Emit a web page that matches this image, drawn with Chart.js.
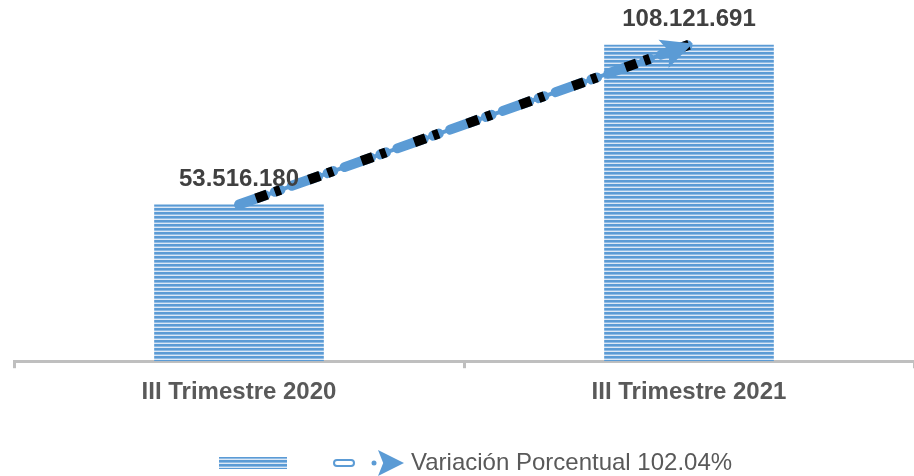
<!DOCTYPE html>
<html>
<head>
<meta charset="utf-8">
<script src="https://cdn.jsdelivr.net/npm/chart.js@4.4.1/dist/chart.umd.min.js"></script>
<style>
html,body{margin:0;padding:0;background:#fff;}
#wrap{width:914px;height:476px;position:relative;}
</style>
</head>
<body>
<div id="wrap"><canvas id="c" width="914" height="476"></canvas></div>
<script>
const categories = ['III Trimestre 2020', 'III Trimestre 2021'];
const values = [53516180, 108121691];
const valueLabels = ['53.516.180', '108.121.691'];
const lineLabel = 'Variación Porcentual 102.04%';
const yMax = 120000000;

const BLUE = '#5B9BD5';
const FONT = '"Liberation Sans", Arial, sans-serif';

function stripePattern() {
  const p = document.createElement('canvas');
  p.width = 8; p.height = 4;
  const g = p.getContext('2d');
  g.fillStyle = BLUE; g.fillRect(0, 0, 8, 2);
  g.fillStyle = '#8fbbe4'; g.fillRect(0, 2, 8, 1);
  g.fillStyle = '#dde8f5'; g.fillRect(0, 3, 8, 1);
  return document.getElementById('c').getContext('2d').createPattern(p, 'repeat');
}
const pattern = stripePattern();

function drawArrowHead(ctx, x, y, angle, len, half, notch) {
  ctx.save();
  ctx.translate(x, y);
  ctx.rotate(angle);
  ctx.beginPath();
  ctx.moveTo(0, 0);
  ctx.lineTo(-len, -half);
  ctx.lineTo(-len * notch, 0);
  ctx.lineTo(-len, half);
  ctx.closePath();
  ctx.fillStyle = BLUE;
  ctx.fill();
  ctx.restore();
}

const overlay = {
  id: 'overlay',
  afterDatasetsDraw(chart) {
    const ctx = chart.ctx;
    const meta = chart.getDatasetMeta(1);
    const p0 = meta.data[0], p1 = meta.data[1];
    const ang = Math.atan2(p1.y - p0.y, p1.x - p0.x);
    drawArrowHead(ctx, p1.x + 4 * Math.cos(ang), p1.y + 4 * Math.sin(ang), ang, 31, 15, 0.8);
    const bm = chart.getDatasetMeta(0);
    ctx.save();
    ctx.font = 'bold 24px ' + FONT;
    ctx.fillStyle = '#404040';
    ctx.textAlign = 'center';
    ctx.textBaseline = 'middle';
    bm.data.forEach((b, i) => {
      ctx.fillText(valueLabels[i], b.x, b.y - 25);
    });
    ctx.restore();
  },
  afterDraw(chart) {
    const ctx = chart.ctx;
    ctx.save();
    const ly = 463;
    ctx.fillStyle = pattern;
    ctx.fillRect(219, ly - 6, 68, 12);
    ctx.strokeStyle = BLUE;
    ctx.lineWidth = 2;
    ctx.beginPath();
    ctx.moveTo(337, ly - 3); ctx.lineTo(351, ly - 3);
    ctx.arc(351, ly, 3, -Math.PI / 2, Math.PI / 2);
    ctx.lineTo(337, ly + 3);
    ctx.arc(337, ly, 3, Math.PI / 2, Math.PI * 1.5);
    ctx.stroke();
    ctx.fillStyle = BLUE;
    ctx.beginPath(); ctx.arc(374, ly, 2.5, 0, Math.PI * 2); ctx.fill();
    drawArrowHead(ctx, 404, ly, 0, 26, 13, 0.8);
    ctx.font = '24px ' + FONT;
    ctx.fillStyle = '#595959';
    ctx.textAlign = 'left';
    ctx.textBaseline = 'middle';
    ctx.fillText(lineLabel, 411, ly);
    ctx.restore();
  }
};

new Chart(document.getElementById('c'), {
  data: {
    labels: categories,
    datasets: [
      {
        type: 'bar',
        label: '',
        data: values,
        backgroundColor: pattern,
        borderWidth: 0,
        barPercentage: 0.377,
        categoryPercentage: 1,
        order: 3
      },
      {
        type: 'line',
        label: lineLabel,
        data: values,
        borderColor: BLUE,
        borderWidth: 4,
        pointRadius: 0,
        tension: 0,
        order: 2
      },
      {
        type: 'line',
        label: '',
        data: values,
        borderColor: BLUE,
        borderWidth: 10,
        borderCapStyle: 'round',
        borderDash: [28, 10, 6, 12],
        pointRadius: 0,
        tension: 0,
        order: 1
      },
      {
        type: 'line',
        label: '',
        data: values,
        borderColor: '#000000',
        borderWidth: 10,
        borderDash: [12, 8, 6, 30],
        borderDashOffset: 38,
        pointRadius: 0,
        tension: 0,
        order: 0
      }
    ]
  },
  options: {
    responsive: false,
    animation: false,
    devicePixelRatio: 1,
    layout: { padding: { left: 14, right: 0, top: 10, bottom: 59 } },
    plugins: { legend: { display: false }, tooltip: { enabled: false } },
    scales: {
      x: {
        offset: true,
        border: { display: true, color: '#bfbfbf', width: 3 },
        grid: { display: true, drawOnChartArea: false, drawTicks: true, tickLength: 7, color: '#bfbfbf', lineWidth: 3, offset: true },
        ticks: { color: '#595959', font: { family: FONT, size: 24, weight: 'bold' }, padding: 10 }
      },
      y: {
        display: false,
        min: 0,
        max: yMax
      }
    }
  },
  plugins: [overlay]
});
</script>
</body>
</html>
